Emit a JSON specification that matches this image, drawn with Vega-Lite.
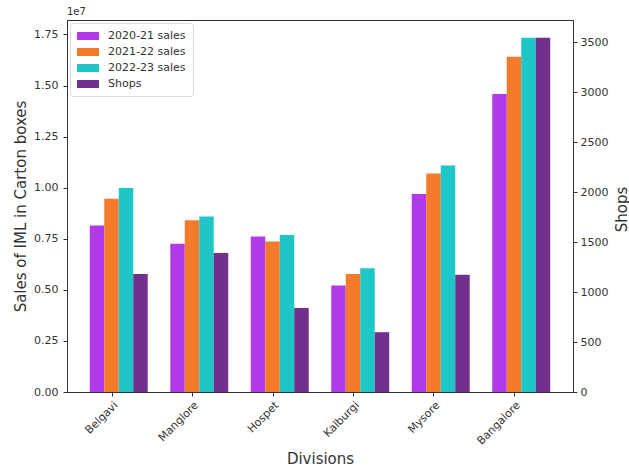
{
  "$schema": "https://vega.github.io/schema/vega-lite/v6.json",
  "width": 506,
  "height": 372,
  "autosize": "none",
  "padding": {"left": 67, "top": 20, "right": 56, "bottom": 76},
  "background": "white",
  "config": {
    "font": "DejaVu Sans",
    "view": {"stroke": "#333", "strokeWidth": 1},
    "axis": {
      "grid": false,
      "domainColor": "#333",
      "tickColor": "#333",
      "tickSize": 4,
      "labelColor": "#333",
      "titleColor": "#333",
      "titleFontWeight": "normal",
      "labelFontSize": 11,
      "titleFontSize": 15
    }
  },
  "title": {
    "text": "1e7",
    "anchor": "start",
    "frame": "group",
    "fontSize": 10,
    "fontWeight": "normal",
    "color": "#333",
    "offset": 3
  },
  "data": {
    "values": [
      {"division": "Belgavi", "series": "2020-21 sales", "value": 8150000},
      {"division": "Belgavi", "series": "2021-22 sales", "value": 9460000},
      {"division": "Belgavi", "series": "2022-23 sales", "value": 9980000},
      {"division": "Belgavi", "series": "Shops", "value": 1180},
      {"division": "Manglore", "series": "2020-21 sales", "value": 7250000},
      {"division": "Manglore", "series": "2021-22 sales", "value": 8400000},
      {"division": "Manglore", "series": "2022-23 sales", "value": 8590000},
      {"division": "Manglore", "series": "Shops", "value": 1390},
      {"division": "Hospet", "series": "2020-21 sales", "value": 7610000},
      {"division": "Hospet", "series": "2021-22 sales", "value": 7370000},
      {"division": "Hospet", "series": "2022-23 sales", "value": 7680000},
      {"division": "Hospet", "series": "Shops", "value": 840},
      {"division": "Kalburgi", "series": "2020-21 sales", "value": 5210000},
      {"division": "Kalburgi", "series": "2021-22 sales", "value": 5770000},
      {"division": "Kalburgi", "series": "2022-23 sales", "value": 6060000},
      {"division": "Kalburgi", "series": "Shops", "value": 598},
      {"division": "Mysore", "series": "2020-21 sales", "value": 9690000},
      {"division": "Mysore", "series": "2021-22 sales", "value": 10690000},
      {"division": "Mysore", "series": "2022-23 sales", "value": 11080000},
      {"division": "Mysore", "series": "Shops", "value": 1172},
      {"division": "Bangalore", "series": "2020-21 sales", "value": 14590000},
      {"division": "Bangalore", "series": "2021-22 sales", "value": 16410000},
      {"division": "Bangalore", "series": "2022-23 sales", "value": 17340000},
      {"division": "Bangalore", "series": "Shops", "value": 3544}
    ]
  },
  "encoding": {
    "x": {
      "field": "division",
      "type": "nominal",
      "sort": ["Belgavi", "Manglore", "Hospet", "Kalburgi", "Mysore", "Bangalore"],
      "scale": {"paddingInner": 0.28, "paddingOuter": 0.283},
      "axis": {
        "title": "Divisions",
        "labelAngle": -45,
        "labelFontSize": 11,
        "tickOffset": -7.25,
        "labelPadding": 3,
        "titlePadding": 5
      }
    },
    "xOffset": {
      "field": "series",
      "type": "nominal",
      "scale": {
        "domain": ["2020-21 sales", "2021-22 sales", "2022-23 sales", "Shops"],
        "paddingInner": 0,
        "paddingOuter": 0
      }
    },
    "color": {
      "field": "series",
      "type": "nominal",
      "scale": {
        "domain": ["2020-21 sales", "2021-22 sales", "2022-23 sales", "Shops"],
        "range": ["#b03ae8", "#f47a2b", "#1ec6c8", "#70308c"]
      },
      "legend": {
        "title": null,
        "orient": "top-left",
        "offset": 3,
        "padding": 7,
        "symbolType": "M-1,-0.667H2.667V0.667H-1Z",
        "symbolSize": 144,
        "symbolStrokeWidth": 0,
        "symbolOpacity": 1,
        "labelOffset": 19,
        "labelFontSize": 11,
        "labelColor": "#333",
        "rowPadding": 5,
        "strokeColor": "#d9d9d9",
        "fillColor": "white",
        "cornerRadius": 3
      }
    }
  },
  "layer": [
    {
      "transform": [{"filter": "datum.series != 'Shops'"}],
      "mark": {"type": "bar", "opacity": 1},
      "encoding": {
        "y": {
          "field": "value",
          "type": "quantitative",
          "scale": {"domain": [0, 18207000], "nice": false, "zero": true},
          "axis": {
            "orient": "left",
            "title": "Sales of IML in Carton boxes",
            "values": [0, 2500000, 5000000, 7500000, 10000000, 12500000, 15000000, 17500000],
            "labelExpr": "format(datum.value / 10000000, '.2f')",
            "labelPadding": 5,
            "titlePadding": 5
          }
        }
      }
    },
    {
      "transform": [{"filter": "datum.series == 'Shops'"}],
      "mark": {"type": "bar", "opacity": 1},
      "encoding": {
        "y": {
          "field": "value",
          "type": "quantitative",
          "scale": {"domain": [0, 3721], "nice": false, "zero": true},
          "axis": {
            "orient": "right",
            "title": "Shops",
            "titleAngle": 270,
            "titleX": 48,
            "titleY": 189,
            "titleAlign": "center",
            "titleBaseline": "middle",
            "format": "d",
            "values": [0, 500, 1000, 1500, 2000, 2500, 3000, 3500],
            "labelPadding": 3
          }
        }
      }
    }
  ],
  "resolve": {"scale": {"y": "independent"}}
}
